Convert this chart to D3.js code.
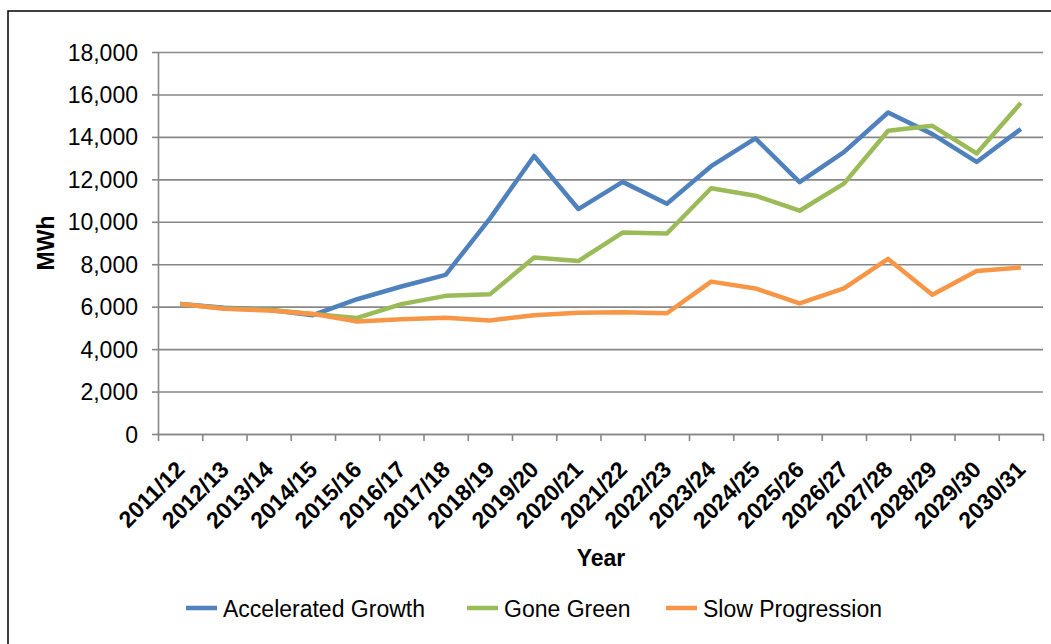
<!DOCTYPE html>
<html>
<head>
<meta charset="utf-8">
<script src="https://cdn.jsdelivr.net/npm/d3@7"></script>
<style>
  body { margin: 0; background: #fff; }
  svg text { font-family: "Liberation Sans", Arial, sans-serif; fill: #000; }
</style>
</head>
<body>
<div id="chart"></div>
<script>
var years = ["2011/12","2012/13","2013/14","2014/15","2015/16","2016/17","2017/18","2018/19","2019/20","2020/21",
             "2021/22","2022/23","2023/24","2024/25","2025/26","2026/27","2027/28","2028/29","2029/30","2030/31"];
var accelerated = [6130, 5950, 5850, 5600, 6350, 6950, 7500, 10150, 13100, 10600,
                   11880, 10850, 12620, 13930, 11870, 13280, 15150, 14130, 12820, 14370];
var goneGreen = [6130, 5910, 5850, 5650, 5470, 6120, 6510, 6580, 8320, 8150,
                 9490, 9450, 11580, 11230, 10520, 11800, 14290, 14520, 13220, 15600];
var slowProgression = [6130, 5900, 5820, 5660, 5300, 5410, 5480, 5350, 5600, 5710,
                       5740, 5690, 7180, 6860, 6150, 6860, 8250, 6560, 7680, 7850];
var yTicks = [0, 2000, 4000, 6000, 8000, 10000, 12000, 14000, 16000, 18000];
var seriesNames = ["Accelerated Growth", "Gone Green", "Slow Progression"];
var seriesColors = ["#4F81BD", "#9BBB59", "#F79646"];

var svgWidth = 1051, svgHeight = 644;
var plotLeft = 158, plotRight = 1043, plotTop = 52, plotBottom = 434;

var svg = d3.select("#chart").append("svg")
    .attr("width", svgWidth)
    .attr("height", svgHeight);

// outer frame
svg.append("rect")
    .attr("x", 8).attr("y", 11)
    .attr("width", 1100).attr("height", 700)
    .attr("fill", "none")
    .attr("stroke", "#000")
    .attr("stroke-width", 1.5);

var xScale = d3.scaleBand().domain(years).range([plotLeft, plotRight]).padding(0);
var xEdge = d3.scaleLinear().domain([0, years.length]).range([plotLeft, plotRight]);
var yScale = d3.scaleLinear().domain([0, 18000]).range([plotBottom, plotTop]);

// gridlines
svg.append("g")
    .attr("transform", "translate(" + plotLeft + ",0)")
    .call(d3.axisLeft(yScale).tickValues(yTicks).tickSize(-(plotRight - plotLeft)).tickFormat(""))
    .call(function (g) { g.select(".domain").remove(); })
    .selectAll("line")
    .attr("stroke", "#878787")
    .attr("stroke-width", 1.6);

// y axis
var yAxis = svg.append("g")
    .attr("transform", "translate(" + plotLeft + ",0)")
    .call(d3.axisLeft(yScale).tickValues(yTicks).tickSize(6).tickSizeOuter(0).tickPadding(14)
        .tickFormat(d3.format(",")));
yAxis.select(".domain").attr("stroke", "#878787").attr("stroke-width", 1.6);
yAxis.selectAll("line").attr("stroke", "#878787").attr("stroke-width", 1.6);
yAxis.selectAll("text").style("font-size", "23px").attr("dy", "0.35em");

// x axis tick marks at category edges
var xAxisG = svg.append("g")
    .attr("transform", "translate(0," + plotBottom + ")")
    .call(d3.axisBottom(xEdge).ticks(years.length).tickSize(7).tickSizeOuter(0).tickFormat(""));
xAxisG.select(".domain").attr("stroke", "#878787").attr("stroke-width", 1.6);
xAxisG.selectAll("line").attr("stroke", "#878787").attr("stroke-width", 1.6);

// x labels
svg.selectAll(".xlab")
    .data(years).enter().append("text")
    .attr("class", "xlab")
    .attr("transform", function (d) {
        var cx = xScale(d) + xScale.bandwidth() / 2 + 6;
        return "translate(" + cx + "," + (plotBottom + 37) + ") rotate(-45)";
    })
    .attr("text-anchor", "end")
    .style("font-size", "23px")
    .style("font-weight", "bold")
    .text(function (d) { return d; });

// lines
var allSeries = [accelerated, goneGreen, slowProgression];
var line = d3.line()
    .x(function (d, i) { return xScale(years[i]) + xScale.bandwidth() / 2; })
    .y(function (d) { return yScale(d); });

svg.selectAll(".series")
    .data(allSeries).enter().append("path")
    .attr("class", "series")
    .attr("d", line)
    .attr("fill", "none")
    .attr("stroke", function (d, i) { return seriesColors[i]; })
    .attr("stroke-width", 4.5)
    .attr("stroke-linejoin", "round");

// axis titles
svg.append("text")
    .attr("transform", "translate(54," + ((plotTop + plotBottom) / 2) + ") rotate(-90)")
    .attr("text-anchor", "middle")
    .style("font-size", "23px")
    .style("font-weight", "bold")
    .text("MWh");

svg.append("text")
    .attr("x", 601).attr("y", 566)
    .attr("text-anchor", "middle")
    .style("font-size", "23px")
    .style("font-weight", "bold")
    .text("Year");

// legend
var legendX = [186, 467, 666];
var legend = svg.selectAll(".leg")
    .data(seriesNames).enter().append("g")
    .attr("class", "leg")
    .attr("transform", function (d, i) { return "translate(" + legendX[i] + ",608)"; });
legend.append("line")
    .attr("x1", 0).attr("x2", 31)
    .attr("stroke", function (d, i) { return seriesColors[i]; })
    .attr("stroke-width", 4.5);
legend.append("text")
    .attr("x", 37).attr("y", 9)
    .style("font-size", "23px")
    .text(function (d) { return d; });
</script>
</body>
</html>
